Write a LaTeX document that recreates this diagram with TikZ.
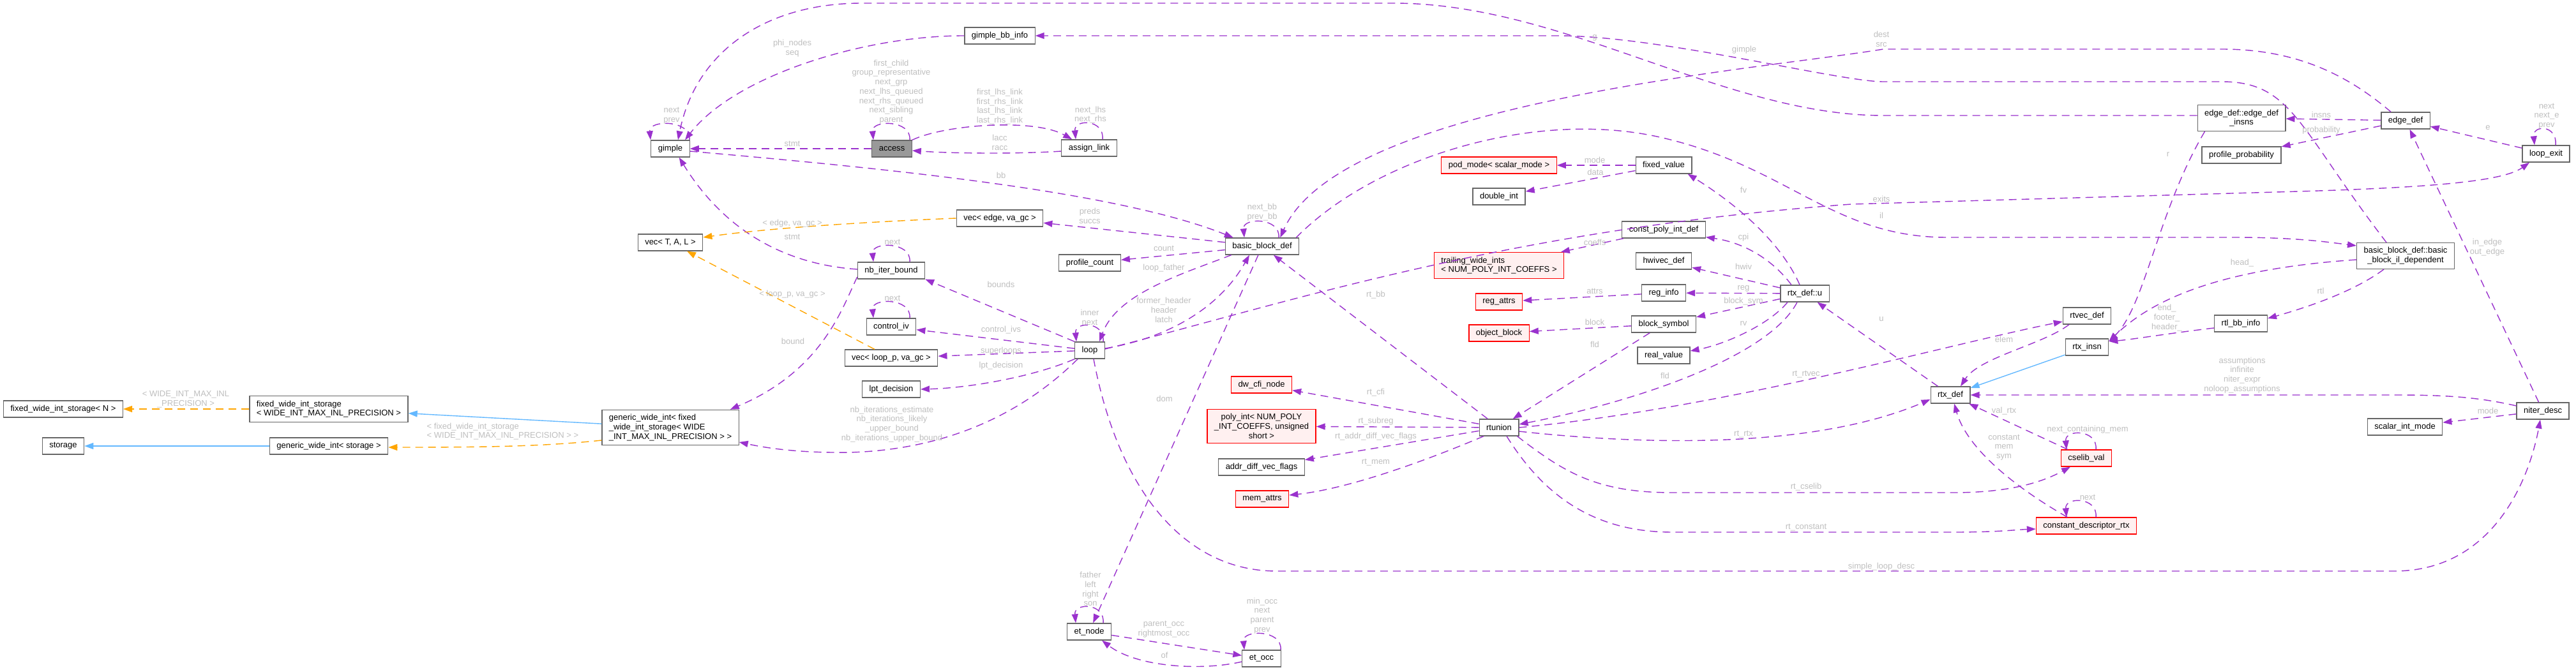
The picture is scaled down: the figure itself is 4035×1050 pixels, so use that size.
\documentclass[tikz,border=0pt]{standalone}
\usepackage{fontspec}
\setmainfont{Liberation Sans}
\usetikzlibrary{arrows.meta}
\definecolor{edgepurple}{HTML}{9A32CD}
\definecolor{tmplorange}{HTML}{FFA500}
\definecolor{inhblue}{HTML}{63B8FF}
\definecolor{boxgray}{HTML}{666666}
\definecolor{rootgray}{HTML}{999999}
\definecolor{labgray}{HTML}{BEBEBE}
\definecolor{undocfill}{HTML}{FFF0F0}
\begin{document}
\begin{tikzpicture}
  [x=0.1mm,y=-0.1mm,
   every node/.style={font=\fontsize{3.7}{4.2}\selectfont},
   cls/.style={draw=boxgray,fill=white,line width=0.35pt,minimum height=2.6mm,inner xsep=1.1mm,inner ysep=0.7mm},
   undoc/.style={cls,draw=red,fill=undocfill},
   root/.style={cls,fill=rootgray},
   lab/.style={text=labgray,inner sep=0pt,align=center},
   mem/.style={draw=edgepurple,line width=0.4pt,dash pattern=on 1.2mm off 0.8mm,-{Triangle[length=1.4mm,width=1mm]}},
   tmpl/.style={mem,draw=tmplorange},
   inh/.style={draw=inhblue,line width=0.4pt,-{Triangle[length=1.4mm,width=1mm]}}]
  \useasboundingbox (0,0) rectangle (4035,1050);
  \node (fwisN)[cls] at (99,641) {fixed\_wide\_int\_storage< N >};
  \node (storage)[cls] at (99,699) {storage};
  \node (fwisW)[cls,align=left] at (515,641) {fixed\_wide\_int\_storage\\< WIDE\_INT\_MAX\_INL\_PRECISION >};
  \node (gwiS)[cls] at (515,699) {generic\_wide\_int< storage >};
  \node (gwiF)[cls,align=left] at (1050,670) {generic\_wide\_int< fixed\\\_wide\_int\_storage< WIDE\\\_INT\_MAX\_INL\_PRECISION > >};
  \node (gimple)[cls] at (1050,233) {gimple};
  \node (vecTAL)[cls] at (1050,380) {vec< T, A, L >};
  \node (access)[root] at (1397,233) {access};
  \node (gbbinfo)[cls] at (1566,56) {gimple\_bb\_info};
  \node (alink)[cls] at (1706,232) {assign\_link};
  \node (vecedge)[cls] at (1566,342) {vec< edge, va\_gc >};
  \node (nbiter)[cls] at (1396,424) {nb\_iter\_bound};
  \node (civ)[cls] at (1396,512) {control\_iv};
  \node (vecloop)[cls] at (1396,561) {vec< loop\_p, va\_gc >};
  \node (lpt)[cls] at (1396,610) {lpt\_decision};
  \node (pcount)[cls] at (1707,412) {profile\_count};
  \node (loop)[cls] at (1707,549) {loop};
  \node (bbdef)[cls] at (1977,386) {basic\_block\_def};
  \node (etnode)[cls] at (1706,990) {et\_node};
  \node (etocc)[cls] at (1976,1032) {et\_occ};
  \node (dwcfi)[undoc] at (1976,603) {dw\_cfi\_node};
  \node (polyint)[undoc,align=center] at (1976,668) {poly\_int< NUM\_POLY\\\_INT\_COEFFS, unsigned\\ short >};
  \node (advf)[cls] at (1976,732) {addr\_diff\_vec\_flags};
  \node (memattrs)[undoc] at (1977,782) {mem\_attrs};
  \node (podmode)[undoc] at (2348,259) {pod\_mode< scalar\_mode >};
  \node (dint)[cls] at (2348,308) {double\_int};
  \node (twi)[undoc,align=left] at (2348,416) {trailing\_wide\_ints\\< NUM\_POLY\_INT\_COEFFS >};
  \node (regattrs)[undoc] at (2348,473) {reg\_attrs};
  \node (objblock)[undoc] at (2348,522) {object\_block};
  \node (rtunion)[cls] at (2348,670) {rtunion};
  \node (fixval)[cls] at (2606,259) {fixed\_value};
  \node (cpid)[cls] at (2606,360) {const\_poly\_int\_def};
  \node (hwivec)[cls] at (2606,409) {hwivec\_def};
  \node (reginfo)[cls] at (2606,459) {reg\_info};
  \node (blocksym)[cls] at (2606,508) {block\_symbol};
  \node (realval)[cls] at (2606,557) {real\_value};
  \node (rtxu)[cls] at (2827,460) {rtx\_def::u};
  \node (rtvec)[cls] at (3269,495) {rtvec\_def};
  \node (rtxinsn)[cls] at (3269,544) {rtx\_insn};
  \node (rtxdef)[cls] at (3055,619) {rtx\_def};
  \node (cselib)[undoc] at (3268,718) {cselib\_val};
  \node (cdr)[undoc] at (3268,824) {constant\_descriptor\_rtx};
  \node (edinsns)[cls,align=center] at (3511,185) {edge\_def::edge\_def\\\_insns};
  \node (pprob)[cls] at (3511,243) {profile\_probability};
  \node (rtlbb)[cls] at (3510,507) {rtl\_bb\_info};
  \node (edgedef)[cls] at (3768,189) {edge\_def};
  \node (ildep)[cls,align=center] at (3768,401) {basic\_block\_def::basic\\\_block\_il\_dependent};
  \node (sim)[cls] at (3767,669) {scalar\_int\_mode};
  \node (loopexit)[cls] at (3988,241) {loop\_exit};
  \node (niter)[cls] at (3983,644) {niter\_desc};

  \foreach \from/\to in {access/gimple,bbdef/vecedge,bbdef/pcount,loop.north west/nbiter.south east,loop/civ,loop/vecloop,bbdef/etnode,etnode/etocc,fixval/podmode,fixval/dint,cpid/twi,reginfo/regattrs,blocksym/objblock,blocksym/rtunion,rtunion/bbdef,rtunion/dwcfi,rtunion/polyint,rtunion/advf,rtxu/hwivec,rtxu/reginfo,rtxu/blocksym,rtxdef/rtxu,cselib/rtxdef,edgedef/edinsns,edgedef/pprob,loopexit/edgedef,niter/edgedef,niter/sim}
    \draw[mem] (\from) -- (\to);
  \foreach \from/\to in {fwisW/fwisN,vecloop/vecTAL}
    \draw[tmpl] (\from) -- (\to);
  \foreach \from/\to in {gwiS/storage,gwiF/fwisW,rtxinsn/rtxdef}
    \draw[inh] (\from) -- (\to);
  \foreach \nd/\l/\r in {gimple/-3.1/3.0,access/-2.9/2.8,alink/-2.1/2.1,nbiter/-2.8/2.9,civ/-2.8/2.9,loop/-2.1/2.1,bbdef/-2.8/2.6,etnode/-2.1/2.2,etocc/-2.7/3.0,cselib/-3.1/1.5,cdr/-3.1/1.5,loopexit/-1.8/1.5}
    \draw[mem] ([xshift=\r mm]\nd.north) .. controls +(3,-32) and +(-3,-32) .. ([xshift=\l mm]\nd.north);

  \draw[mem] (gbbinfo.west) .. controls (1350,56) and (1150,120) .. ([xshift=2.3mm]gimple.north);
  \draw[mem] ([yshift=0.4mm]edinsns.west) -- (2950,181) .. controls (2700,181) and (2450,5) .. (2183,5) -- (1350,5) .. controls (1200,5) and (1090,80) .. ([xshift=1.2mm]gimple.north);
  \draw[mem] ([yshift=0.2mm]nbiter.west) .. controls (1240,415) and (1140,370) .. (gimple.315);
  \draw[mem] ([yshift=-0.4mm]gimple.east) .. controls (1400,265) and (1750,300) .. ([xshift=1.3mm]bbdef.north west);
  \draw[mem] (access.north east) .. controls (1480,195) and (1620,185) .. ([xshift=1.7mm]alink.north west);
  \draw[mem] ([yshift=-0.5mm]alink.west) .. controls (1600,241) and (1500,241) .. ([yshift=-0.3mm]access.east);
  \draw[mem] ([xshift=1mm]bbdef.south west) .. controls (1850,430) and (1750,460) .. ([xshift=1.5mm]loop.north);
  \draw[mem] ([yshift=0.3mm]loop.east) .. controls (1800,535) and (1900,500) .. ([xshift=-2mm]bbdef.south);
  \draw[mem] (loop.south west) .. controls (1620,590) and (1520,608) .. (lpt.east);
  \draw[mem] ([xshift=0.5mm]loop.south west) .. controls (1600,650) and (1480,705) .. (1330,709) .. controls (1250,710) and (1200,702) .. (gwiF.348);
  \draw[mem] ([yshift=-1mm]nbiter.west) .. controls (1320,480) and (1290,580) .. ([xshift=-1.4mm]gwiF.north east);
  \draw[mem] ([yshift=-0.5mm]etocc.west) .. controls (1880,1052) and (1780,1045) .. ([xshift=2mm]etnode.south);
  \draw[mem] ([xshift=0.6mm]loop.south) .. controls (1750,760) and (1850,895) .. (2000,895) -- (3750,895) .. controls (3900,895) and (3960,760) .. ([xshift=-0.4mm]niter.south);
  \draw[mem] ([yshift=0.2mm]loop.east) .. controls (2000,480) and (2350,360) .. (2900,320) -- (3600,300) .. controls (3800,294) and (3920,285) .. ([xshift=-2.6mm]loopexit.south);
  \draw[mem] ([xshift=-2.3mm]edgedef.north) .. controls (3680,120) and (3600,77) .. (3480,77) -- (2950,77) .. controls (2750,110) and (2100,160) .. ([xshift=-3mm]bbdef.north east);
  \draw[mem] ([xshift=-3mm]ildep.north) .. controls (3600,200) and (3590,128) .. (3480,128) -- (2950,128) .. controls (2880,128) and (2600,56) .. (2440,56) -- (gbbinfo.east);
  \draw[mem] ([xshift=-0.5mm]bbdef.north east) .. controls (2150,250) and (2400,170) .. (2600,215) .. controls (2800,260) and (2870,372) .. (3050,372) -- (3500,372) .. controls (3600,372) and (3650,380) .. ([yshift=1.6mm]ildep.west);
  \draw[mem] ([xshift=-0.8mm]rtxu.north) .. controls (2790,380) and (2720,320) .. ([xshift=-0.7mm]fixval.south east);
  \draw[mem] ([xshift=-2.1mm]rtxu.north) .. controls (2775,405) and (2730,380) .. (cpid.350);
  \draw[mem] ([xshift=-2.7mm]rtxu.south) .. controls (2770,510) and (2700,540) .. ([yshift=0.7mm]realval.east);
  \draw[mem] ([xshift=-1.2mm]rtxu.south) .. controls (2770,560) and (2560,630) .. ([yshift=0.5mm]rtunion.east);
  \draw[mem] ([xshift=-2.4mm]rtunion.south) .. controls (2250,715) and (2120,765) .. ([yshift=0.6mm]memattrs.east);
  \draw[mem] (rtunion.east) .. controls (2700,640) and (3050,540) .. ([yshift=-0.9mm]rtvec.west);
  \draw[mem] ([yshift=-0.6mm]rtunion.east) .. controls (2600,700) and (2850,700) .. ([yshift=-0.7mm]rtxdef.west);
  \draw[mem] ([xshift=-0.3mm]rtunion.south east) .. controls (2450,740) and (2500,772) .. (2620,772) -- (3060,772) .. controls (3150,772) and (3200,755) .. ([xshift=-2.5mm]cselib.south);
  \draw[mem] ([xshift=1.2mm]rtunion.south) .. controls (2420,780) and (2500,834) .. (2620,834) -- (3060,834) .. controls (3130,834) and (3160,830) .. ([yshift=-0.5mm]cdr.west);
  \draw[mem] ([xshift=-2.8mm]rtvec.south) .. controls (3200,540) and (3100,560) .. ([xshift=1.6mm]rtxdef.north);
  \draw[mem] ([xshift=-3mm]cdr.north) .. controls (3150,760) and (3080,700) .. ([xshift=0.6mm]rtxdef.south);
  \draw[mem] ([yshift=0.8mm]niter.west) .. controls (3880,622) and (3830,619) .. (3750,619) -- (rtxdef.east);
  \draw[mem] ([xshift=1.2mm]edinsns.south west) .. controls (3380,330) and (3360,480) .. ([yshift=0.9mm]rtxinsn.east);
  \draw[mem] ([yshift=-0.7mm]rtlbb.west) .. controls (3400,522) and (3340,532) .. ([yshift=0.9mm]rtxinsn.east);
  \draw[mem] ([yshift=-0.6mm]ildep.west) .. controls (3500,420) and (3380,460) .. ([yshift=0.9mm]rtxinsn.east);
  \draw[mem] ([xshift=-3.4mm]ildep.south) .. controls (3690,455) and (3620,480) .. ([yshift=0.8mm]rtlbb.east);
  \draw[tmpl] ([yshift=-2mm]gwiF.west) .. controls (850,700) and (750,701) .. ([yshift=-0.2mm]gwiS.east);
  \draw[tmpl] (vecedge.west) .. controls (1350,348) and (1200,358) .. ([yshift=0.8mm]vecTAL.east);

  \foreach \x/\y/\t [count=\i] in {1052/181/{next\\prev},1241/76/{phi\_nodes\\seq},2498/59/g,1241/225/stmt,1241/371/stmt,1568/275/bb,
      1396/144/{first\_child\\group\_representative\\next\_grp\\next\_lhs\_queued\\next\_rhs\_queued\\next\_sibling\\parent},
      1566/167/{first\_lhs\_link\\first\_rhs\_link\\last\_lhs\_link\\last\_rhs\_link},1708/180/{next\_lhs\\next\_rhs},1566/223/{lacc\\racc},
      1707/338/{preds\\succs},1977/333/{next\_bb\\prev\_bb},1823/389/count,1823/420/loop\_father,1398/379/next,1568/446/bounds,
      1398/467/next,1568/517/control\_ivs,1707/497/{inner\\next},1823/486/{former\_header\\header\\latch},1568/550/superloops,
      1568/573/lpt\_decision,1397/665/{nb\_iterations\_estimate\\nb\_iterations\_likely\\\_upper\_bound\\nb\_iterations\_upper\_bound},
      1242/535/bound,1824/625/dom,1708/923/{father\\left\\right\\son},1823/986/{parent\_occ\\rightmost\_occ},1824/1027/of,
      1977/965/{min\_occ\\next\\parent\\prev},2947/888/simple\_loop\_desc,2947/312/exits,2947/61/{dest\\src},2732/78/gimple,
      2947/338/il,2155/462/rt\_bb,2498/251/mode,2499/270/data,2498/380/coeffs,2498/456/attrs,2498/505/block,2498/540/fld,
      2155/615/rt\_cfi,2155/660/rt\_subreg,2155/684/rt\_addr\_diff\_vec\_flags,2155/725/rt\_mem,2731/298/fv,2731/372/cpi,
      2731/418/hwiv,2731/452/reg,2731/472/block\_sym,2731/507/rv,2608/589/fld,2947/500/u,2829/587/rt\_rtvec,2731/681/rt\_rtx,
      2829/763/rt\_cselib,2829/827/rt\_constant,3139/532/elem,3139/644/val\_rtx,3270/673/next\_containing\_mem,
      3139/701/{constant\\mem\\sym},3270/779/next,3512/588/{assumptions\\infinite\\niter\_expr\\noloop\_assumptions},
      3396/242/r,3394/498/{end\_\\footer\_\\header\_},3512/412/head\_,3635/456/rtl,3636/180/insns,3636/204/probability,
      3897/200/e,3989/182/{next\\next\_e\\prev},3896/388/{in\_edge\\out\_edge},3897/644/mode,
      291/626/{< WIDE\_INT\_MAX\_INL\\\_PRECISION >},1241/350/{< edge, va\_gc >},1241/461/{< loop\_p, va\_gc >}}
    \node (lab\i)[lab] at (\x,\y) {\t};
  \node (labfwis)[lab,align=left,anchor=west] at (668,676) {< fixed\_wide\_int\_storage\\< WIDE\_INT\_MAX\_INL\_PRECISION > >};
\end{tikzpicture}
\end{document}
